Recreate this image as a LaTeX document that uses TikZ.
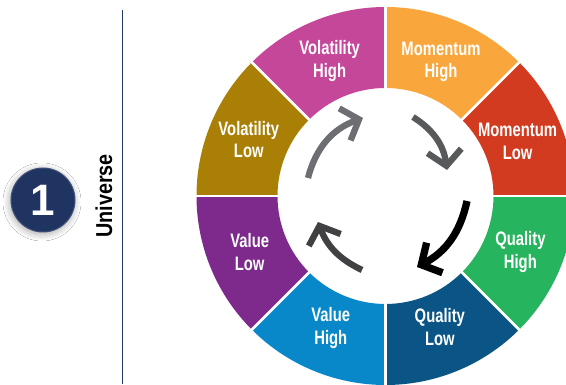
\documentclass[tikz,border=0pt]{standalone}
\usepackage{fontspec}
\setmainfont{Liberation Sans}
\newfontfamily\labfont[FakeStretch=0.76]{Liberation Sans}
\newfontfamily\unifont[FakeStretch=0.86]{Liberation Sans}
\usetikzlibrary{arrows.meta,shadows.blur}
\definecolor{cVolH}{HTML}{C5479A}
\definecolor{cMomH}{HTML}{F9A63D}
\definecolor{cMomL}{HTML}{D33B20}
\definecolor{cQuaH}{HTML}{27B45E}
\definecolor{cQuaL}{HTML}{0A5586}
\definecolor{cValH}{HTML}{0888C9}
\definecolor{cValL}{HTML}{7E2A8C}
\definecolor{cVolL}{HTML}{A97F05}
\definecolor{cNavy}{HTML}{1F3461}
\definecolor{cLine}{HTML}{1F3864}
\definecolor{arrA}{HTML}{6D6E71}
\definecolor{arrB}{HTML}{58595B}
\definecolor{arrD}{HTML}{414042}
\tikzset{
  seglabel/.style={text=white, align=center, inner sep=0pt,
    font=\labfont\bfseries\fontsize{19.5}{22.5}\selectfont},
  cyc/.style={line width=6.3pt, -{Straight Barb[length=15pt,width=34pt]}},
}
\begin{document}
\begin{tikzpicture}[x=1pt,y=1pt]
\useasboundingbox (0,0) rectangle (566,385);
\fill[white] (0,0) rectangle (566,385);
\begin{scope}
\clip (0,0) rectangle (566,385);
\begin{scope}[shift={(385.5,189)}]
\foreach \a/\col in {90/cVolH, 45/cMomH, 0/cMomL, -45/cQuaH, -90/cQuaL, -135/cValH, 180/cValL, 135/cVolL}{
  \fill[\col] (\a:108) arc[start angle=\a, end angle=\a+45, radius=108]
     -- ({\a+45}:189) arc[start angle=\a+45, end angle=\a, radius=189] -- cycle;
}
\foreach \a in {0,45,...,315}{
  \draw[white, line width=2.6pt] (\a:100) -- (\a:200);
}
\node[seglabel] (volh) at (112.5:146) {Volatility\\High};
\node[seglabel] (momh) at (67.5:145) {Momentum\\High};
\node[seglabel] (moml) at (22.5:143) {Momentum\\Low};
\node[seglabel] (quah) at (-22.5:146) {Quality\\High};
\node[seglabel] (qual) at (-67.5:142) {Quality\\Low};
\node[seglabel] (valh) at (-112.5:143) {Value\\High};
\node[seglabel] (vall) at (-157.5:147) {Value\\Low};
\node[seglabel] (voll) at (157.5:148) {Volatility\\Low};
\coordinate (a1s) at (-77.5,18);
\coordinate (a1e) at (-22.5,78);
\coordinate (a2s) at (27.5,79);
\coordinate (a2e) at (61.5,26);
\coordinate (a3s) at (81.5,-5);
\coordinate (a3e) at (31.5,-71);
\coordinate (a4s) at (-23.5,-74);
\coordinate (a4e) at (-67.5,-26);
\draw[cyc, arrA] (a1s) to[bend left=28] (a1e);
\draw[cyc, arrB] (a2s) to[bend left=25] (a2e);
\draw[cyc, black, line width=7.3pt] (a3s) to[bend left=25] (a3e);
\draw[cyc, arrD] (a4s) to[bend left=22] (a4e);
\end{scope}
\end{scope}
\coordinate (lt) at (122.5,375);
\coordinate (lb) at (122.5,1);
\draw[cLine, line width=1.6pt] (lt) -- (lb);
\node[rotate=90, font=\unifont\bfseries\fontsize{23}{25}\selectfont] (uni) at (104,189) {Universe};
\node[circle, fill=cNavy, draw=cNavy!85!white, line width=1pt, minimum size=64pt,
  blur shadow={shadow blur steps=10, shadow xshift=-1pt, shadow yshift=-2pt, shadow blur radius=7pt, shadow opacity=35},
  text=white, font=\bfseries\fontsize{44}{46}\selectfont] (one) at (43,185) {1};
\end{tikzpicture}
\end{document}
